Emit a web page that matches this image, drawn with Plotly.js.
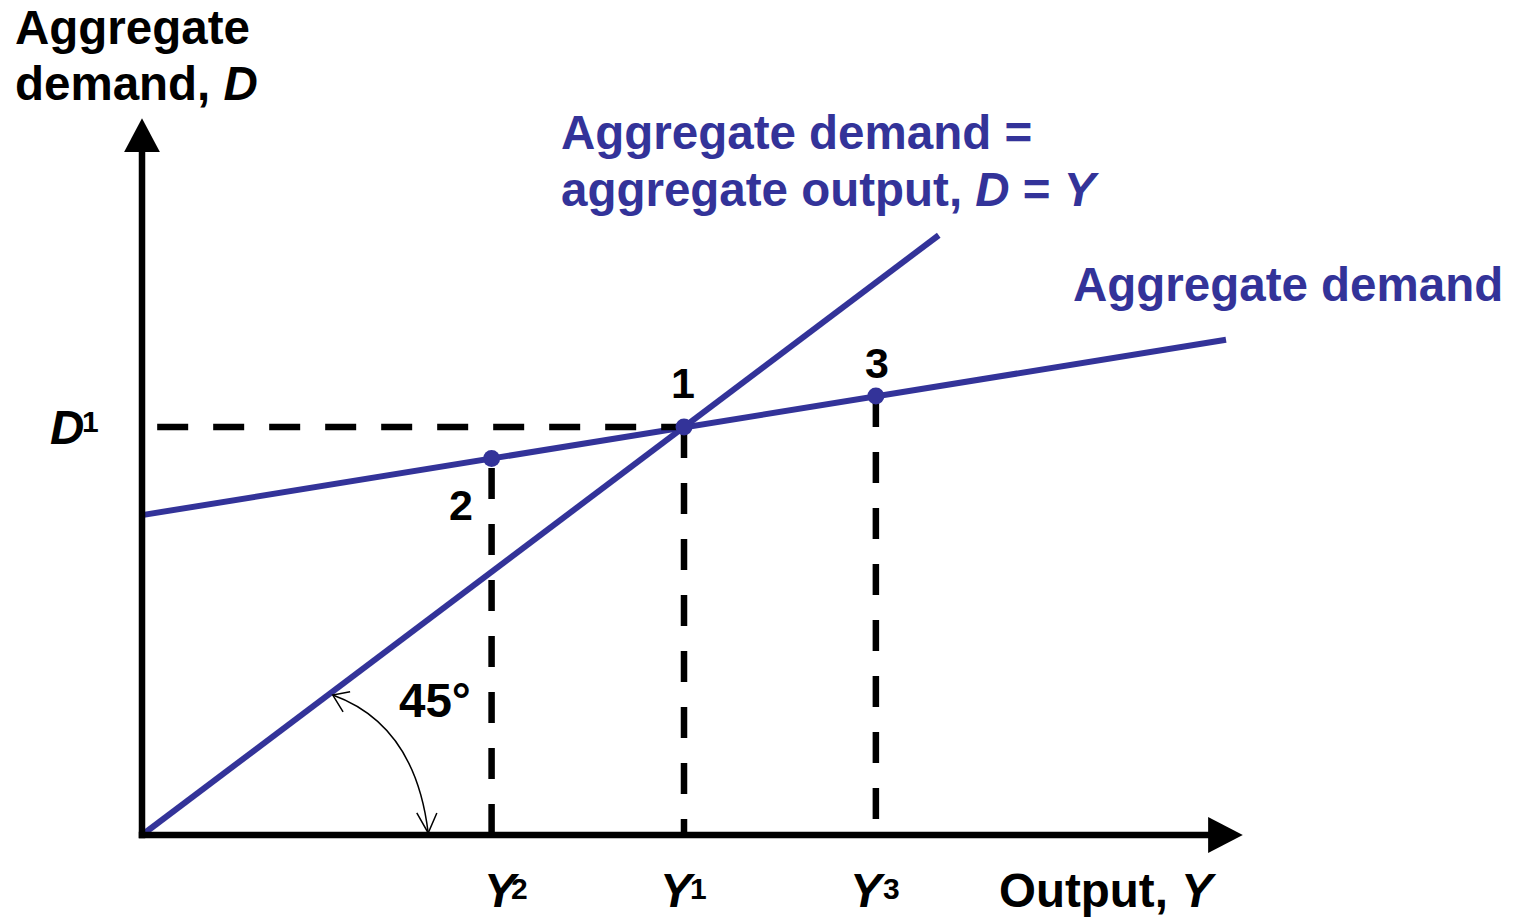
<!DOCTYPE html>
<html><head><meta charset="utf-8">
<script src="https://cdn.plot.ly/plotly-3.0.1.min.js"></script>
<style>html,body{margin:0;padding:0;background:#fff;}#chart{width:1522px;height:917px;}</style>
</head><body><div id="chart"></div>
<script>
// ---- Data ----
const adOutput = [0, 200];          // Output Y along the aggregate demand line
const adDemand = [78.4, 121.4];     // Aggregate demand D along that line
const diagOutput = [0, 147];        // 45-degree line D = Y
const diagDemand = [0, 147];
const pointLabels = ['2', '1', '3'];
const pointOutput = [64.5, 100, 135.4];
const pointDemand = [92.3, 100, 107.6];
const tickLetters = ['Y', 'Y', 'Y'];
const tickSups = ['2', '1', '3'];
const equilibriumLetter = 'D';
const equilibriumSup = '1';
const axisMaxOutput = 203.1;
const axisMaxDemand = 175.7;
const dashStartOutput = 2.8;

// ---- Styling ----
const BLUE = '#333399';
const FONT = 'Liberation Sans, Arial, sans-serif';
const XS = 5.42, YS = 4.08;             // px per unit
const OX = 142, OY = 835;               // origin in px
const W = 1522, H = 917;
const xRange = [-OX / XS, (W - OX) / XS];
const yRange = [-(H - OY) / YS, OY / YS];
const DASH = '31px,25px';

const traces = [];
traces.push({x: adOutput, y: adDemand, mode: 'lines', line: {color: BLUE, width: 6}, hoverinfo: 'skip'});
traces.push({x: diagOutput, y: diagDemand, mode: 'lines', line: {color: BLUE, width: 6}, hoverinfo: 'skip'});
// Horizontal dashed D1
traces.push({x: [dashStartOutput, pointOutput[1]], y: [pointDemand[1], pointDemand[1]], mode: 'lines',
  line: {color: '#000', width: 6.5, dash: DASH}, hoverinfo: 'skip'});
// Vertical dashed lines (Y2 drawn from the axis up, the others from the point down)
const fromAxis = [true, false, false];
pointOutput.forEach((v, i) => {
  const ys = fromAxis[i] ? [0, pointDemand[i]] : [pointDemand[i], 0];
  traces.push({x: [v, v], y: ys, mode: 'lines',
    line: {color: '#000', width: 6.5, dash: DASH}, hoverinfo: 'skip'});
});
traces.push({x: pointOutput, y: pointDemand, mode: 'markers',
  marker: {color: BLUE, size: 17, line: {width: 0}}, hoverinfo: 'skip'});

const shapes = [];
shapes.push({type: 'line', xref: 'x', yref: 'y', x0: 0, y0: -0.8, x1: 0, y1: 168.5, line: {color: '#000', width: 6.5}});
shapes.push({type: 'line', xref: 'x', yref: 'y', x0: -0.6, y0: 0, x1: 197.5, y1: 0, line: {color: '#000', width: 6.5}});
shapes.push({type: 'path', xref: 'x', yref: 'y',
  path: `M 0,${axisMaxDemand} L -3.3,${axisMaxDemand - 8.3} L 3.3,${axisMaxDemand - 8.3} Z`,
  fillcolor: '#000', line: {width: 0}});
shapes.push({type: 'path', xref: 'x', yref: 'y',
  path: `M ${axisMaxOutput},0 L ${axisMaxOutput - 6.4},4.4 L ${axisMaxOutput - 6.4},-4.4 Z`,
  fillcolor: '#000', line: {width: 0}});
shapes.push({type: 'path', xref: 'x', yref: 'y', path: 'M 35.2,34.3 Q 50.4,27 52.8,0.5', line: {color: '#000', width: 1.5}});
shapes.push({type: 'path', xref: 'x', yref: 'y', path: 'M 38.4,35.1 L 35.2,34.3 L 37.1,30.2', line: {color: '#000', width: 1.5}});
shapes.push({type: 'path', xref: 'x', yref: 'y', path: 'M 50.7,5.4 L 52.8,0.5 L 54.4,5.4', line: {color: '#000', width: 1.5}});

const f = (size, color) => ({family: FONT, size: size, color: color || '#000', weight: 'bold'});
const ann = [];
const px2x = px => (px - OX) / XS;
const py2y = py => (OY - py) / YS;
const BIG = 47.5, SUP = 30, NUM = 43;
const txt = (x, y, text, opts) => Object.assign({x: x, y: y, text: text, xanchor: 'left', yanchor: 'middle', showarrow: false, font: f(BIG)}, opts || {});
// Axis titles
ann.push(txt(px2x(13), py2y(27), 'Aggregate'));
ann.push(txt(px2x(13), py2y(83), 'demand, <i>D</i>'));
ann.push(txt(px2x(997), py2y(890), 'Output, <i>Y</i>'));
// Line labels
ann.push(txt(px2x(559), py2y(132), 'Aggregate demand =', {font: f(BIG, BLUE)}));
ann.push(txt(px2x(559), py2y(189), 'aggregate output, <i>D</i> = <i>Y</i>', {font: f(BIG, BLUE)}));
ann.push(txt(px2x(1071), py2y(284), 'Aggregate demand', {font: f(BIG, BLUE)}));
// 45 degree
ann.push(txt(px2x(435), py2y(700), '45°', {xanchor: 'center'}));
// Point labels
const pShift = [[-31, -47], [-1, 44], [1, 33]];
pointLabels.forEach((t, i) => {
  ann.push(txt(pointOutput[i], pointDemand[i], t, {xshift: pShift[i][0], yshift: pShift[i][1], xanchor: 'center', font: f(NUM)}));
});
// Tick labels on the output axis
const letterShift = [-10, -26, -28];
const supShift = [17, 4, 5];
tickLetters.forEach((t, i) => {
  ann.push(txt(pointOutput[i], 0, '<i>' + t + '</i>', {xshift: letterShift[i], yshift: -55}));
  ann.push(txt(pointOutput[i], 0, tickSups[i], {xshift: supShift[i], yshift: -53, font: f(SUP)}));
});
// D1 on the demand axis
ann.push(txt(0, pointDemand[1], '<i>' + equilibriumLetter + '</i>', {xshift: -94, yshift: 0}));
ann.push(txt(0, pointDemand[1], equilibriumSup, {xshift: -62, yshift: 6, font: f(SUP)}));

const layout = {
  width: W, height: H,
  margin: {l: 0, r: 0, t: 0, b: 0, pad: 0},
  paper_bgcolor: '#fff', plot_bgcolor: '#fff',
  showlegend: false,
  xaxis: {range: xRange, visible: false, fixedrange: true},
  yaxis: {range: yRange, visible: false, fixedrange: true},
  shapes: shapes,
  annotations: ann
};
Plotly.newPlot('chart', traces, layout, {displayModeBar: false, staticPlot: true});
</script>
</body></html>
